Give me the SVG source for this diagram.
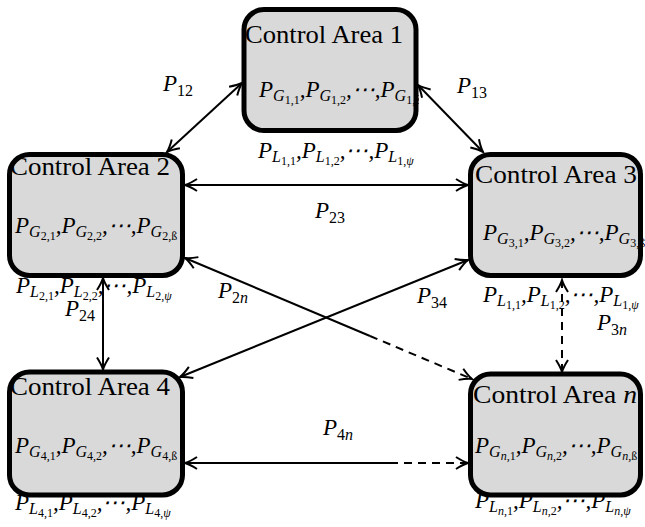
<svg xmlns="http://www.w3.org/2000/svg" width="645" height="527" viewBox="0 0 645 527">
<style>
.box{fill:#d9d9d9;stroke:none}
.brd{fill:none;stroke:#000;stroke-width:5}
.ca{font-family:"Liberation Serif",serif;font-size:25px}
.m{font-family:"Liberation Serif","DejaVu Serif",serif;font-style:italic;font-size:23px}
.s{font-size:16px}
.ss{font-size:12px;font-style:normal}
.lb{font-family:"Liberation Serif","DejaVu Serif",serif;font-style:italic;font-size:23px}
.ls{font-size:16px;font-style:normal}
.li{font-size:16px;font-style:italic}
.c{fill:none;stroke:#000;stroke-width:2}
.d{stroke-dasharray:8 6}
</style>
<defs>
<marker id="ar" viewBox="-13 -8 15 16" refX="0" refY="0" markerWidth="15" markerHeight="16" markerUnits="userSpaceOnUse" orient="auto-start-reverse">
<path d="M -12 -6 Q -5 -1.5 0 0 Q -5 1.5 -12 6" fill="none" stroke="#000" stroke-width="2"/>
</marker>
<clipPath id="cl1"><rect x="0" y="0" width="419" height="527"/></clipPath>
</defs>

<g id="area1">
<rect class="box" x="244" y="9.5" width="172" height="121" rx="20"/>
<text class="ca" x="245" y="43" textLength="158" lengthAdjust="spacingAndGlyphs">Control Area 1</text>
<text class="m" x="259" y="97" clip-path="url(#cl1)"><tspan>P</tspan><tspan class="s" dy="4">G</tspan><tspan class="ss" dy="3">1,1</tspan><tspan dy="-7">,P</tspan><tspan class="s" dy="4">G</tspan><tspan class="ss" dy="3">1,2</tspan><tspan dy="-7">,⋯,P</tspan><tspan class="s" dy="4">G</tspan><tspan class="ss" dy="3">1,ß</tspan></text>
<rect class="brd" x="244" y="9.5" width="172" height="121" rx="20"/>
<text class="m" x="258" y="158"><tspan>P</tspan><tspan class="s" dy="4">L</tspan><tspan class="ss" dy="3">1,1</tspan><tspan dy="-7">,P</tspan><tspan class="s" dy="4">L</tspan><tspan class="ss" dy="3">1,2</tspan><tspan dy="-7">,⋯,P</tspan><tspan class="s" dy="4">L</tspan><tspan class="ss" dy="3">1,</tspan><tspan class="ss" style="font-style:italic">ψ</tspan></text>
</g>

<g id="area2">
<rect class="box" x="9.5" y="154.5" width="173" height="121" rx="20"/>
<text class="ca" x="10" y="175" textLength="160" lengthAdjust="spacingAndGlyphs">Control Area 2</text>
<text class="m" x="15" y="233"><tspan>P</tspan><tspan class="s" dy="4">G</tspan><tspan class="ss" dy="3">2,1</tspan><tspan dy="-7">,P</tspan><tspan class="s" dy="4">G</tspan><tspan class="ss" dy="3">2,2</tspan><tspan dy="-7">,⋯,P</tspan><tspan class="s" dy="4">G</tspan><tspan class="ss" dy="3">2,ß</tspan></text>
<rect class="brd" x="9.5" y="154.5" width="173" height="121" rx="20"/>
<text class="m" x="16" y="293"><tspan>P</tspan><tspan class="s" dy="4">L</tspan><tspan class="ss" dy="3">2,1</tspan><tspan dy="-7">,P</tspan><tspan class="s" dy="4">L</tspan><tspan class="ss" dy="3">2,2</tspan><tspan dy="-7">,⋯,P</tspan><tspan class="s" dy="4">L</tspan><tspan class="ss" dy="3">2,</tspan><tspan class="ss" style="font-style:italic">ψ</tspan></text>
</g>

<g id="area3">
<rect class="box" x="470.5" y="154.5" width="170" height="121" rx="20"/>
<text class="ca" x="475" y="183" textLength="162" lengthAdjust="spacingAndGlyphs">Control Area 3</text>
<text class="m" x="483" y="240"><tspan>P</tspan><tspan class="s" dy="4">G</tspan><tspan class="ss" dy="3">3,1</tspan><tspan dy="-7">,P</tspan><tspan class="s" dy="4">G</tspan><tspan class="ss" dy="3">3,2</tspan><tspan dy="-7">,⋯,P</tspan><tspan class="s" dy="4">G</tspan><tspan class="ss" dy="3">3,ß</tspan></text>
<rect class="brd" x="470.5" y="154.5" width="170" height="121" rx="20"/>
<text class="m" x="483" y="302"><tspan>P</tspan><tspan class="s" dy="4">L</tspan><tspan class="ss" dy="3">1,1</tspan><tspan dy="-7">,P</tspan><tspan class="s" dy="4">L</tspan><tspan class="ss" dy="3">1,2</tspan><tspan dy="-7">,⋯,P</tspan><tspan class="s" dy="4">L</tspan><tspan class="ss" dy="3">1,</tspan><tspan class="ss" style="font-style:italic">ψ</tspan></text>
</g>

<g id="area4">
<rect class="box" x="9.5" y="372" width="173" height="123" rx="20"/>
<text class="ca" x="10" y="395" textLength="160" lengthAdjust="spacingAndGlyphs">Control Area 4</text>
<text class="m" x="15" y="453"><tspan>P</tspan><tspan class="s" dy="4">G</tspan><tspan class="ss" dy="3">4,1</tspan><tspan dy="-7">,P</tspan><tspan class="s" dy="4">G</tspan><tspan class="ss" dy="3">4,2</tspan><tspan dy="-7">,⋯,P</tspan><tspan class="s" dy="4">G</tspan><tspan class="ss" dy="3">4,ß</tspan></text>
<rect class="brd" x="9.5" y="372" width="173" height="123" rx="20"/>
<text class="m" x="15" y="510"><tspan>P</tspan><tspan class="s" dy="4">L</tspan><tspan class="ss" dy="3">4,1</tspan><tspan dy="-7">,P</tspan><tspan class="s" dy="4">L</tspan><tspan class="ss" dy="3">4,2</tspan><tspan dy="-7">,⋯,P</tspan><tspan class="s" dy="4">L</tspan><tspan class="ss" dy="3">4,</tspan><tspan class="ss" style="font-style:italic">ψ</tspan></text>
</g>

<g id="arean">
<rect class="box" x="470.5" y="374" width="170" height="121" rx="20"/>
<text class="ca" x="473" y="403" textLength="164" lengthAdjust="spacingAndGlyphs">Control Area <tspan font-style="italic">n</tspan></text>
<text class="m" x="475" y="453"><tspan>P</tspan><tspan class="s" dy="4">G</tspan><tspan class="ss" dy="3" style="font-style:italic">n</tspan><tspan class="ss">,1</tspan><tspan dy="-7">,P</tspan><tspan class="s" dy="4">G</tspan><tspan class="ss" dy="3" style="font-style:italic">n</tspan><tspan class="ss">,2</tspan><tspan dy="-7">,⋯,P</tspan><tspan class="s" dy="4">G</tspan><tspan class="ss" dy="3" style="font-style:italic">n</tspan><tspan class="ss">,ß</tspan></text>
<rect class="brd" x="470.5" y="374" width="170" height="121" rx="20"/>
<text class="m" x="475" y="508"><tspan>P</tspan><tspan class="s" dy="4">L</tspan><tspan class="ss" dy="3" style="font-style:italic">n</tspan><tspan class="ss">,1</tspan><tspan dy="-7">,P</tspan><tspan class="s" dy="4">L</tspan><tspan class="ss" dy="3" style="font-style:italic">n</tspan><tspan class="ss">,2</tspan><tspan dy="-7">,⋯,P</tspan><tspan class="s" dy="4">L</tspan><tspan class="ss" dy="3" style="font-style:italic">n</tspan><tspan class="ss">,</tspan><tspan class="ss" style="font-style:italic">ψ</tspan></text>
</g>

<g id="connectors">
<line class="c" x1="242" y1="83" x2="167" y2="152" marker-start="url(#ar)" marker-end="url(#ar)"/>
<line class="c" x1="418" y1="85" x2="483" y2="152" marker-start="url(#ar)" marker-end="url(#ar)"/>
<line class="c" x1="185" y1="185" x2="468" y2="185" marker-start="url(#ar)" marker-end="url(#ar)"/>
<line class="c" x1="103" y1="278" x2="103" y2="369.5" marker-start="url(#ar)" marker-end="url(#ar)"/>
<line class="c" x1="180" y1="377" x2="468" y2="260" marker-start="url(#ar)" marker-end="url(#ar)"/>
<line class="c" x1="185" y1="258" x2="370" y2="336" marker-start="url(#ar)"/>
<line class="c d" x1="370" y1="336" x2="472" y2="379" marker-end="url(#ar)"/>
<line class="c d" x1="562" y1="280" x2="562" y2="372" marker-start="url(#ar)" marker-end="url(#ar)"/>
<line class="c" x1="185" y1="463" x2="390" y2="463" marker-start="url(#ar)"/>
<line class="c d" x1="390" y1="463" x2="468" y2="463" marker-end="url(#ar)"/>
</g>

<g id="labels">
<text class="lb" x="163" y="91">P<tspan class="ls" dy="5">12</tspan></text>
<text class="lb" x="457" y="93">P<tspan class="ls" dy="5">13</tspan></text>
<text class="lb" x="315" y="218">P<tspan class="ls" dy="5">23</tspan></text>
<text class="lb" x="65" y="316">P<tspan class="ls" dy="5">24</tspan></text>
<text class="lb" x="417" y="303">P<tspan class="ls" dy="5">34</tspan></text>
<text class="lb" x="218" y="298">P<tspan class="ls" dy="5">2</tspan><tspan class="li">n</tspan></text>
<text class="lb" x="597" y="330">P<tspan class="ls" dy="5">3</tspan><tspan class="li">n</tspan></text>
<text class="lb" x="323" y="435">P<tspan class="ls" dy="5">4</tspan><tspan class="li">n</tspan></text>
</g>
</svg>
